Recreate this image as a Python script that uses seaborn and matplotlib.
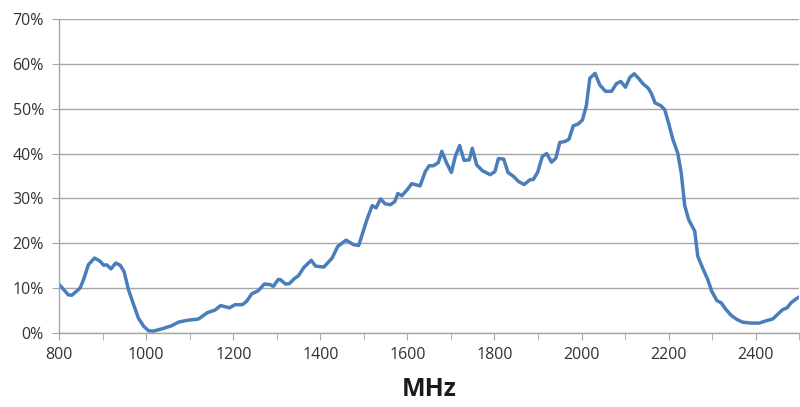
import pandas as pd
import matplotlib.pyplot as plt
from matplotlib.ticker import MultipleLocator, PercentFormatter
import seaborn as sns

# values
mhz = [800, 821, 829, 848, 856, 867, 881, 894, 902, 909, 919, 930, 940, 949,
       959, 971, 982, 994, 1005, 1016, 1039, 1058, 1074, 1093, 1120, 1140,
       1158, 1171, 1191, 1204, 1221, 1231, 1242, 1257, 1271, 1284, 1292,
       1303, 1308, 1320, 1329, 1339, 1350, 1362, 1379, 1389, 1408, 1427,
       1440, 1459, 1476, 1488, 1507, 1519, 1528, 1538, 1549, 1561, 1571,
       1578, 1587, 1599, 1610, 1629, 1641, 1650, 1660, 1671, 1679, 1690,
       1701, 1710, 1720, 1730, 1742, 1749, 1759, 1772, 1790, 1801, 1809,
       1821, 1831, 1844, 1855, 1868, 1882, 1889, 1899, 1910, 1920, 1931,
       1941, 1950, 1962, 1971, 1981, 1992, 2002, 2011, 2019, 2031, 2042,
       2055, 2069, 2080, 2090, 2101, 2111, 2121, 2131, 2141, 2153, 2160,
       2169, 2182, 2191, 2200, 2210, 2221, 2229, 2237, 2246, 2260, 2267,
       2279, 2290, 2299, 2311, 2321, 2332, 2344, 2357, 2370, 2389, 2408,
       2424, 2439, 2450, 2462, 2472, 2482, 2496, 2500]
pct = [10.8, 8.5, 8.4, 10.0, 11.9, 15.2, 16.7, 16.0, 15.1, 15.2, 14.3, 15.6,
       15.1, 13.7, 9.7, 6.3, 3.3, 1.5, 0.5, 0.4, 1.0, 1.6, 2.4, 2.8, 3.1,
       4.5, 5.1, 6.1, 5.6, 6.3, 6.3, 7.1, 8.7, 9.4, 10.9, 10.8, 10.4, 11.9,
       11.9, 10.9, 11.0, 12.0, 12.8, 14.6, 16.2, 14.9, 14.7, 16.7, 19.3,
       20.7, 19.7, 19.5, 25.3, 28.4, 27.9, 29.9, 28.8, 28.6, 29.3, 31.1,
       30.6, 31.9, 33.3, 32.8, 36.0, 37.3, 37.3, 38.0, 40.5, 37.9, 35.8,
       39.4, 41.8, 38.5, 38.6, 41.2, 37.5, 36.2, 35.3, 36.0, 38.9, 38.8,
       35.8, 34.9, 33.8, 33.1, 34.2, 34.2, 35.8, 39.4, 40.0, 38.1, 39.0,
       42.5, 42.7, 43.2, 46.2, 46.6, 47.5, 50.7, 56.8, 57.9, 55.3, 53.9,
       53.9, 55.6, 56.1, 54.8, 57.0, 57.8, 56.8, 55.6, 54.6, 53.5, 51.3,
       50.7, 49.8, 46.8, 43.1, 40.1, 35.7, 28.4, 25.3, 22.7, 17.1, 14.3,
       11.9, 9.3, 7.2, 6.7, 5.2, 3.9, 3.0, 2.4, 2.2, 2.2, 2.7, 3.1, 4.1,
       5.2, 5.6, 6.8, 7.8, 8.0]

df = pd.DataFrame({"MHz": mhz, "pct": pct})

sns.set_style("white")
plt.rcParams["font.family"] = ["Open Sans", "DejaVu Sans"]

fig = plt.figure(figsize=(8, 4.07), dpi=100)
ax = fig.add_axes([0.074, 0.182, 0.925, 0.771])

sns.lineplot(data=df, x="MHz", y="pct", color="#4a7ebb", linewidth=2.5, ax=ax)

ax.set_xlim(800, 2500)
ax.set_ylim(0, 70)
ax.xaxis.set_major_locator(MultipleLocator(200))
ax.xaxis.set_minor_locator(MultipleLocator(100))
ax.yaxis.set_major_locator(MultipleLocator(10))
ax.yaxis.set_major_formatter(PercentFormatter(decimals=0))

ax.grid(axis="y", color="#a6a6a6", linewidth=1)
ax.set_axisbelow(True)
for s in ["top", "right"]:
    ax.spines[s].set_visible(False)
for s in ["left", "bottom"]:
    ax.spines[s].set_color("#a6a6a6")
    ax.spines[s].set_linewidth(1)

ax.tick_params(axis="both", which="both", direction="out", length=5,
               color="#a6a6a6", labelsize=11.5, labelcolor="#333333")
ax.tick_params(axis="x", which="both", bottom=True)
ax.tick_params(axis="x", which="major", pad=5)
ax.tick_params(axis="y", left=True, pad=6)

ax.set_xlabel("MHz", fontsize=18, fontweight="bold", color="#1a1a1a", labelpad=10)
ax.set_ylabel("")

fig.savefig("out.png", dpi=100)
